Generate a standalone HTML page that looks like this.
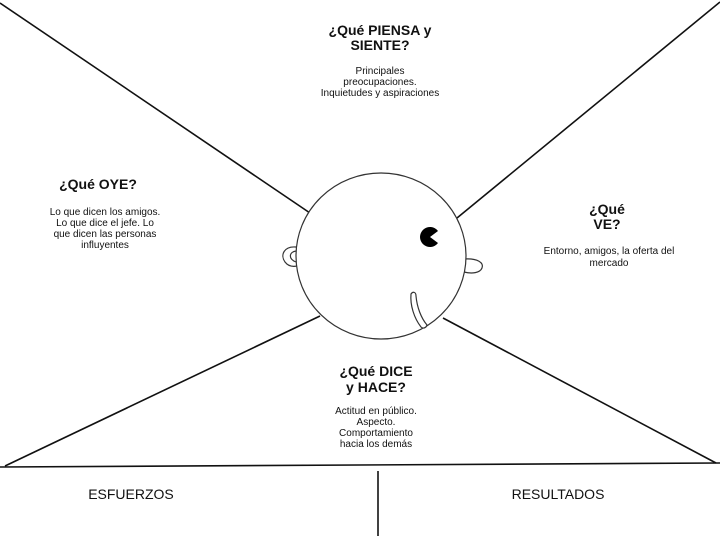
<!DOCTYPE html>
<html><head><meta charset="utf-8"><style>
html,body{margin:0;padding:0;background:#fff;width:720px;height:538px;overflow:hidden}
svg{display:block}
text{font-family:"Liberation Sans",Arial,sans-serif;fill:#111;text-anchor:middle}
.t{font-size:14px;font-weight:bold}
.b{font-size:10px}
.f{font-size:14px}
</style></head><body>
<svg width="720" height="538" viewBox="0 0 720 538">
<g stroke="#111" stroke-width="1.6" fill="none">
<line x1="0" y1="3" x2="310" y2="213"/>
<line x1="720" y1="2" x2="457" y2="218"/>
<line x1="5" y1="466" x2="320" y2="316"/>
<line x1="443" y1="318" x2="716" y2="463"/>
<line x1="0" y1="467" x2="720" y2="463"/>
<line x1="378" y1="471" x2="378" y2="536"/>
</g>
<g stroke="#333" stroke-width="1.2" fill="#fff">
<path d="M296,247 C284,246 280,255 285,262 C288,266 292,267 297,266"/>
<path d="M296,251 C289,252 288,259 296,262"/>
<path d="M464,259 C478,258 484,263 482,268 C480,273 472,274 464,272"/>
<ellipse cx="381" cy="256" rx="85" ry="83"/>
<path d="M411,294 C413,291 416,292 416,296 C417,307 421,318 427,325 C426,328 423,329 421,327 C414,318 410,305 411,294 Z"/>
</g>
<path d="M438,231 A10,10 0 1 0 438,243 L430,237 Z" fill="#000"/>
<text class="t" x="380" y="35">¿Qué PIENSA y</text>
<text class="t" x="380" y="50">SIENTE?</text>
<text class="b" x="380" y="74">Principales</text>
<text class="b" x="380" y="85">preocupaciones.</text>
<text class="b" x="380" y="96">Inquietudes y aspiraciones</text>
<text class="t" x="98" y="189">¿Qué OYE?</text>
<text class="b" x="105" y="215">Lo que dicen los amigos.</text>
<text class="b" x="105" y="226">Lo que dice el jefe. Lo</text>
<text class="b" x="105" y="237">que dicen las personas</text>
<text class="b" x="105" y="248">influyentes</text>
<text class="t" x="607" y="214">¿Qué</text>
<text class="t" x="607" y="229">VE?</text>
<text class="b" x="609" y="254">Entorno, amigos, la oferta del</text>
<text class="b" x="609" y="266">mercado</text>
<text class="t" x="376" y="376">¿Qué DICE</text>
<text class="t" x="376" y="392">y HACE?</text>
<text class="b" x="376" y="414">Actitud en público.</text>
<text class="b" x="376" y="425">Aspecto.</text>
<text class="b" x="376" y="436">Comportamiento</text>
<text class="b" x="376" y="447">hacia los demás</text>
<text class="f" x="131" y="499">ESFUERZOS</text>
<text class="f" x="558" y="499">RESULTADOS</text>
</svg>
</body></html>
